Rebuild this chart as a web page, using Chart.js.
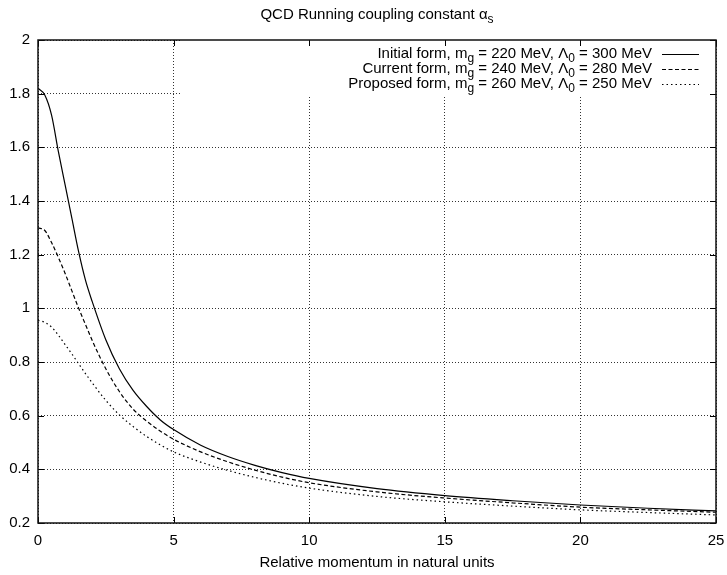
<!DOCTYPE html>
<html>
<head>
<meta charset="utf-8">
<title>QCD Running coupling constant</title>
<script src="https://cdn.jsdelivr.net/npm/chart.js@4.4.1/dist/chart.umd.min.js"></script>
<style>
    html, body { margin: 0; padding: 0; background: #fff; }
    canvas { display: block; }
</style>
</head>
<body>
<canvas id="coupling" width="727" height="575"></canvas>
<script>
// momentum grid the curves are sampled on
const momentum = [0, 0.25, 0.5, 0.75, 1, 1.25, 1.5, 1.75, 2, 2.5, 3, 3.5, 4, 4.5, 5,
    6, 7, 8, 9, 10, 12.5, 15, 17.5, 20, 22.5, 25];

// alpha_s for each parametrisation
const initialForm = [1.82, 1.795, 1.72, 1.585, 1.46, 1.335, 1.21, 1.105, 1.025, 0.883, 0.775, 0.695, 0.635, 0.585, 0.548,
    0.49, 0.448, 0.415, 0.388, 0.366, 0.328, 0.302, 0.283, 0.267, 0.255, 0.245];
const currentForm = [1.30, 1.29, 1.245, 1.19, 1.13, 1.065, 1.0, 0.94, 0.88, 0.775, 0.69, 0.625, 0.58, 0.543, 0.512,
    0.465, 0.428, 0.397, 0.371, 0.350, 0.316, 0.293, 0.275, 0.259, 0.249, 0.240];
const proposedForm = [0.955, 0.948, 0.93, 0.90, 0.865, 0.83, 0.793, 0.757, 0.722, 0.657, 0.603, 0.56, 0.523, 0.492, 0.465,
    0.427, 0.396, 0.370, 0.348, 0.330, 0.299, 0.279, 0.263, 0.249, 0.239, 0.230];

// legend text pieces
const seriesNames = ['Initial form', 'Current form', 'Proposed form'];
const gluonMass = [220, 240, 260];     // MeV
const lambdaZero = [300, 280, 250];    // MeV

const FONT = '"Liberation Sans", Arial, Helvetica, sans-serif';
const FONT_SIZE = 15;
const dashes = [[], [4, 2.5], [1.5, 3]];

// draws text made of plain and subscript pieces, right aligned (or centred) at x
function drawRichText(ctx, parts, x, y, align) {
    const mainFont = FONT_SIZE + 'px ' + FONT;
    const subFont = Math.round(FONT_SIZE * 0.8) + 'px ' + FONT;
    let width = 0;
    parts.forEach(p => {
        ctx.font = p.sub ? subFont : mainFont;
        width += ctx.measureText(p.t).width;
    });
    let cx = align === 'center' ? x - width / 2 : x - width;
    ctx.textAlign = 'left';
    ctx.textBaseline = 'middle';
    parts.forEach(p => {
        ctx.font = p.sub ? subFont : mainFont;
        ctx.fillText(p.t, cx, p.sub ? y + 5 : y);
        cx += ctx.measureText(p.t).width;
    });
}

const gnuplotFrame = {
    id: 'gnuplotFrame',
    beforeDraw(chart) {
        const ctx = chart.ctx;
        ctx.save();
        ctx.fillStyle = '#fff';
        ctx.fillRect(0, 0, chart.width, chart.height);
        ctx.restore();
    },
    beforeDatasetsDraw(chart) {
        // opaque key box hides the grid behind the legend
        const { ctx, chartArea } = chart;
        ctx.save();
        ctx.fillStyle = '#fff';
        ctx.fillRect(181, chartArea.top, chartArea.right - 181, 95 - chartArea.top);
        ctx.restore();
    },
    afterDatasetsDraw(chart) {
        const { ctx, chartArea } = chart;
        const { left, right, top, bottom } = chartArea;
        const xScale = chart.scales.x;
        const yScale = chart.scales.y;
        ctx.save();

        // inward tick marks on all four sides
        ctx.strokeStyle = '#000';
        ctx.lineWidth = 1;
        ctx.beginPath();
        xScale.ticks.forEach(t => {
            const px = Math.round(xScale.getPixelForValue(t.value)) + 0.5;
            ctx.moveTo(px, bottom); ctx.lineTo(px, bottom - 6);
            ctx.moveTo(px, top); ctx.lineTo(px, top + 6);
        });
        yScale.ticks.forEach(t => {
            const py = Math.round(yScale.getPixelForValue(t.value)) + 0.5;
            ctx.moveTo(left, py); ctx.lineTo(left + 6, py);
            ctx.moveTo(right, py); ctx.lineTo(right - 6, py);
        });
        ctx.stroke();

        // plot border
        ctx.lineWidth = 1.5;
        ctx.strokeStyle = '#111';
        ctx.strokeRect(left, top, right - left, bottom - top);

        // key
        ctx.fillStyle = '#000';
        chart.data.datasets.forEach((ds, i) => {
            const y = 54 + i * 15;
            drawRichText(ctx, [
                { t: seriesNames[i] + ', m' },
                { t: 'g', sub: true },
                { t: ' = ' + gluonMass[i] + ' MeV, \u039B' },
                { t: '0', sub: true },
                { t: ' = ' + lambdaZero[i] + ' MeV' }
            ], 652, y);
            ctx.beginPath();
            ctx.lineWidth = ds.borderWidth;
            ctx.strokeStyle = ds.borderColor;
            ctx.setLineDash(ds.borderDash);
            ctx.moveTo(662, y + 0.5);
            ctx.lineTo(699, y + 0.5);
            ctx.stroke();
            ctx.setLineDash([]);
        });

        // title
        drawRichText(ctx, [
            { t: 'QCD Running coupling constant \u03B1' },
            { t: 's', sub: true }
        ], (left + right) / 2, 15, 'center');

        ctx.restore();
    }
};

const datasets = [initialForm, currentForm, proposedForm].map((values, i) => ({
    label: seriesNames[i],
    data: values,
    borderColor: '#000',
    borderWidth: 1.2,
    borderDash: dashes[i],
    pointRadius: 0,
    fill: false,
    cubicInterpolationMode: 'monotone'
}));

new Chart(document.getElementById('coupling'), {
    type: 'line',
    data: { labels: momentum, datasets: datasets },
    options: {
        responsive: false,
        animation: false,
        devicePixelRatio: 1,
        layout: { padding: { left: 0, right: 11, top: 40, bottom: 0 } },
        plugins: {
            legend: { display: false },
            title: { display: false },
            tooltip: { enabled: false }
        },
        scales: {
            x: {
                type: 'linear',
                min: 0,
                max: 25,
                afterFit: s => {
                    s.height = 52;
                    s.paddingLeft = 0;
                    s.paddingRight = 0;
                },
                ticks: {
                    stepSize: 5,
                    padding: 9,
                    color: '#000',
                    font: { family: FONT, size: FONT_SIZE },
                    maxRotation: 0
                },
                grid: { color: '#333', lineWidth: 1, drawTicks: false },
                border: { display: false, dash: [1, 2] },
                title: {
                    display: true,
                    text: 'Relative momentum in natural units',
                    color: '#000',
                    font: { family: FONT, size: FONT_SIZE },
                    padding: { top: 0, bottom: 3 }
                }
            },
            y: {
                min: 0.2,
                max: 2,
                afterFit: s => {
                    s.width = 38;
                    s.paddingTop = 0;
                    s.paddingBottom = 0;
                },
                ticks: {
                    stepSize: 0.2,
                    padding: 8,
                    color: '#000',
                    font: { family: FONT, size: FONT_SIZE },
                    callback: v => String(Number(v.toFixed(1)))
                },
                grid: { color: '#333', lineWidth: 1, drawTicks: false },
                border: { display: false, dash: [1, 2] }
            }
        }
    },
    plugins: [gnuplotFrame]
});
</script>
</body>
</html>
